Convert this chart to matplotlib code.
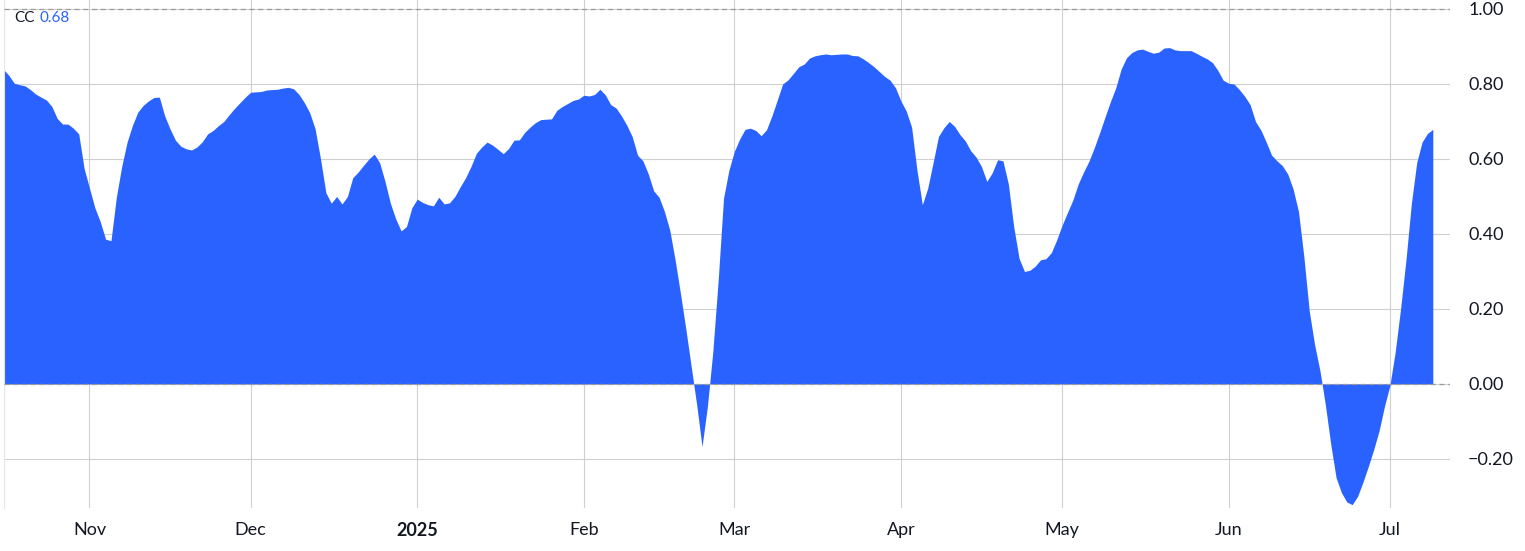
import matplotlib
matplotlib.use("Agg")
import matplotlib.pyplot as plt
import pandas as pd

# ---- data (daily values) ----
start_date = "2024-10-16"
cc_oct = [0.839, 0.823, 0.802, 0.798, 0.795, 0.785, 0.773, 0.765, 0.757, 0.740,
          0.708, 0.693, 0.693, 0.682, 0.667, 0.575]
cc_nov = [0.522, 0.470, 0.433, 0.386, 0.382, 0.498, 0.580, 0.645, 0.690, 0.725,
          0.743, 0.755, 0.764, 0.765, 0.715, 0.680, 0.650, 0.634, 0.627, 0.624,
          0.632, 0.646, 0.667, 0.676, 0.689, 0.700, 0.718, 0.735, 0.750, 0.765]
cc_dec = [0.778, 0.779, 0.780, 0.784, 0.785, 0.786, 0.789, 0.791, 0.787, 0.772,
          0.750, 0.723, 0.680, 0.600, 0.510, 0.482, 0.500, 0.480, 0.500, 0.550,
          0.565, 0.583, 0.600, 0.613, 0.590, 0.540, 0.482, 0.440, 0.408, 0.420,
          0.470]
cc_jan = [0.493, 0.484, 0.478, 0.475, 0.498, 0.480, 0.483, 0.500, 0.526, 0.550,
          0.580, 0.615, 0.632, 0.645, 0.637, 0.626, 0.614, 0.628, 0.650, 0.651,
          0.671, 0.685, 0.697, 0.705, 0.706, 0.707, 0.730, 0.740, 0.748, 0.756,
          0.760]
cc_feb = [0.770, 0.768, 0.772, 0.786, 0.771, 0.745, 0.736, 0.715, 0.690, 0.660,
          0.610, 0.595, 0.560, 0.515, 0.498, 0.460, 0.410, 0.330, 0.240, 0.145,
          0.045, -0.055, -0.167, -0.060, 0.085, 0.275, 0.495, 0.570]
cc_mar = [0.620, 0.653, 0.679, 0.682, 0.676, 0.662, 0.678, 0.715, 0.757, 0.800,
          0.811, 0.828, 0.846, 0.853, 0.869, 0.875, 0.878, 0.880, 0.878, 0.879,
          0.880, 0.880, 0.876, 0.875, 0.867, 0.857, 0.846, 0.833, 0.820, 0.810,
          0.790]
cc_apr = [0.755, 0.728, 0.685, 0.570, 0.478, 0.522, 0.590, 0.660, 0.683, 0.700,
          0.687, 0.665, 0.648, 0.622, 0.605, 0.580, 0.540, 0.563, 0.598, 0.595,
          0.534, 0.420, 0.335, 0.300, 0.303, 0.314, 0.331, 0.334, 0.350, 0.384]
cc_may = [0.423, 0.457, 0.490, 0.533, 0.565, 0.594, 0.630, 0.670, 0.712, 0.753,
          0.790, 0.840, 0.870, 0.884, 0.891, 0.893, 0.887, 0.882, 0.885, 0.896,
          0.897, 0.891, 0.889, 0.889, 0.889, 0.882, 0.874, 0.867, 0.857, 0.836,
          0.810]
cc_jun = [0.802, 0.800, 0.785, 0.767, 0.745, 0.700, 0.677, 0.645, 0.610, 0.595,
          0.582, 0.560, 0.520, 0.460, 0.340, 0.195, 0.105, 0.035, -0.055, -0.160,
          -0.250, -0.290, -0.315, -0.322, -0.300, -0.262, -0.220, -0.175, -0.125,
          -0.060]
cc_jul = [-0.005, 0.085, 0.200, 0.330, 0.480, 0.590, 0.645, 0.668, 0.679]

month_ticks = ["2024-11-01", "2024-12-01", "2025-01-01", "2025-02-01", "2025-03-01",
               "2025-04-01", "2025-05-01", "2025-06-01", "2025-07-01"]
month_labels = ["Nov", "Dec", "2025", "Feb", "Mar", "Apr", "May", "Jun", "Jul"]
y_ticks = [-0.2, 0.0, 0.2, 0.4, 0.6, 0.8, 1.0]
last_label = "0.68"

values = cc_oct + cc_nov + cc_dec + cc_jan + cc_feb + cc_mar + cc_apr + cc_may + cc_jun + cc_jul
dates = pd.date_range(start_date, periods=len(values), freq="D")

BLUE = "#2962FF"
GRID = "#D0D0D0"
TEXT = "#131722"
FONT = ["Lato", "DejaVu Sans"]

fig = plt.figure(figsize=(15.25, 5.51), dpi=100)
ax = fig.add_axes([3.5 / 1525, (551 - 508) / 551, (1450 - 3.5) / 1525, 508 / 551])

ax.fill_between(dates, 0, values, color=BLUE, linewidth=0, zorder=2)

ax.axhline(1.0, color="#9A9A9A", linestyle=(0, (4, 3)), linewidth=0.9, zorder=3)
ax.axhline(0.0, color="#9A9A9A", linestyle=(0, (4, 3)), linewidth=0.9, zorder=3)

ax.set_ylim(-0.331, 1.024)
ax.set_xlim(pd.Timestamp("2024-10-16"), pd.Timestamp("2024-11-01") + pd.Timedelta(days=253.2))

ax.set_yticks(y_ticks)
ax.yaxis.tick_right()
ax.set_yticklabels([f"{t:.2f}".replace("-", "\u2212") for t in y_ticks])
ax.set_xticks(pd.to_datetime(month_ticks))
ax.set_xticklabels(month_labels)

ax.grid(True, color=GRID, linewidth=0.8, zorder=0)
ax.set_axisbelow(True)
ax.tick_params(axis="both", length=0, colors=TEXT, labelsize=13)
ax.tick_params(axis="y", pad=13)
ax.tick_params(axis="x", pad=10)
for lbl in ax.get_xticklabels() + ax.get_yticklabels():
    lbl.set_family(FONT)
    lbl.set_color(TEXT)
for lbl in ax.get_xticklabels():
    if lbl.get_text() == "2025":
        lbl.set_fontweight("bold")

for s in ["top", "right", "bottom"]:
    ax.spines[s].set_visible(False)
ax.spines["left"].set_color("#E6E6E6")
ax.spines["left"].set_linewidth(0.8)

fig.text(14 / 1525, 1 - 18 / 551, "CC", family=FONT, fontsize=11, color=TEXT,
         va="center", ha="left")
fig.text(40 / 1525, 1 - 18 / 551, last_label, family=FONT, fontsize=11, color=BLUE,
         va="center", ha="left")

fig.savefig("out.png", dpi=100, facecolor="white")
